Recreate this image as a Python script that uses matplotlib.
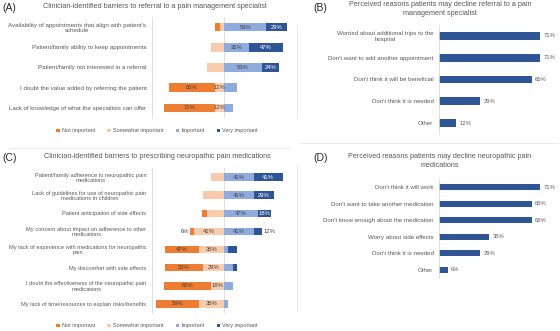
"""Four-panel survey chart: referral and neuropathic medication barriers."""

import matplotlib
matplotlib.use("Agg")
import matplotlib.pyplot as plt
from matplotlib.lines import Line2D
from matplotlib.patches import Patch
import numpy as np

plt.rcParams["font.family"] = ["Liberation Sans", "DejaVu Sans"]

W, H = 560, 331
GREY = "#595959"
C_NOT = "#ED7D31"
C_SOME = "#F8CBAD"
C_IMP = "#8FAADC"
C_VERY = "#2F5597"
SPINE = "#D9D9D9"
FS = 4.4

levels = ["Not important", "Somewhat important", "Important", "Very important"]

# panel A
a_items = [
    "Availability of appointments that align with patient's\nschedule",
    "Patient/family ability to keep appointments",
    "Patient/family not interested in a referral",
    "I doubt the value added by referring the patient",
    "Lack of knowledge of what the specialists can offer",
]
a_not = [6, 0, 0, 65, 71]
a_some = [6, 18, 24, 12, 12]
a_imp = [59, 35, 53, 18, 12]
a_very = [29, 47, 24, 0, 0]
a_show = [
    [0, 0, 1, 1],
    [0, 0, 1, 1],
    [0, 0, 1, 1],
    [1, 1, 0, 0],
    [1, 1, 0, 0],
]

# panel C
c_items = [
    "Patient/family adherence to neuropathic pain\nmedications",
    "Lack of guidelines for use of neuropathic pain\nmedications in children",
    "Patient anticipation of side effects",
    "My concern about impact on adherence to other\nmedications",
    "My lack of experience with medications for neuropathic\npain",
    "My discomfort with side effects",
    "I doubt the effectiveness of the neuropathic pain\nmedications",
    "My lack of time/resources to explain risks/benefits",
]
c_not = [0, 0, 6, 6, 47, 53, 65, 59]
c_some = [18, 29, 24, 41, 35, 29, 18, 35]
c_imp = [41, 41, 47, 41, 6, 12, 12, 6]
c_very = [41, 29, 18, 12, 12, 6, 0, 0]
c_show = [
    [0, 0, 1, 1],
    [0, 0, 1, 1],
    [0, 0, 1, 1],
    [2, 1, 1, 2],
    [1, 1, 0, 0],
    [1, 1, 0, 0],
    [1, 1, 0, 0],
    [1, 1, 0, 0],
]

# panel B
b_items = [
    "Worried about additional trips to the\nhospital",
    "Don't want to add another appointment",
    "Don't think it will be beneficial",
    "Don't think it is needed",
    "Other",
]
b_vals = [71, 71, 65, 29, 12]

# panel D
d_items = [
    "Don't think it will work",
    "Don't want to take another medication",
    "Don't know enough about the medication",
    "Worry about side effects",
    "Don't think it is needed",
    "Other",
]
d_vals = [71, 65, 65, 35, 29, 6]


def px_axes(fig, x0, y0, x1, y1):
    return fig.add_axes([x0 / W, 1 - y1 / H, (x1 - x0) / W, (y1 - y0) / H])


def style_axes(ax, labels, fs):
    for side in ["top", "right", "bottom"]:
        ax.spines[side].set_visible(False)
    ax.spines["left"].set_color(SPINE)
    ax.spines["left"].set_linewidth(0.6)
    ax.set_xticks([])
    ax.set_yticks(range(len(labels)))
    ax.set_yticklabels(labels, fontsize=fs, color=GREY, multialignment="center",
                       linespacing=1.1)
    ax.tick_params(axis="y", length=0, pad=4)
    ax.set_ylim(len(labels) - 0.5, -0.5)


def diverging(ax, labels, not_imp, some, imp, very, show, fs):
    y = np.arange(len(labels))
    not_imp, some, imp, very = map(np.array, (not_imp, some, imp, very))
    segs = [
        (-(not_imp + some), not_imp, C_NOT, "#404040"),
        (-some, some, C_SOME, "#404040"),
        (np.zeros(len(y)), imp, C_IMP, "#404040"),
        (imp, very, C_VERY, "white"),
    ]
    ax.axvline(0, color=SPINE, lw=0.6, zorder=0)
    for k, (left, width, color, tcol) in enumerate(segs):
        ax.barh(y, width, left=left, height=0.42, color=color, zorder=2)
        for i in y:
            flag = show[i][k]
            if not flag or width[i] == 0:
                continue
            txt = f"{width[i]}%"
            if flag == 1:
                ax.text(left[i] + width[i] / 2, i, txt, ha="center", va="center",
                        fontsize=4.2, color=tcol, zorder=3)
            elif k == 0:
                ax.text(left[i] - 1.5, i, txt, ha="right", va="center",
                        fontsize=4.2, color="#404040", zorder=3)
            else:
                ax.text(left[i] + width[i] + 1.5, i, txt, ha="left", va="center",
                        fontsize=4.2, color="#404040", zorder=3)
    ax.set_xlim(-100, 100)
    style_axes(ax, labels, fs)


def simple(ax, labels, vals):
    y = np.arange(len(labels))
    ax.barh(y, vals, height=0.36, color=C_VERY, zorder=2)
    for i, v in zip(y, vals):
        ax.text(v + 2.5, i, f"{v}%", ha="left", va="center", fontsize=4.2, color=GREY)
    ax.set_xlim(0, 85)
    style_axes(ax, labels, FS)


def legend(fig, x, y):
    handles = [Patch(facecolor=c) for c in (C_NOT, C_SOME, C_IMP, C_VERY)]
    fig.legend(handles, levels, loc="center", bbox_to_anchor=(x / W, 1 - y / H),
               ncol=4, frameon=False, fontsize=4.0, labelcolor=GREY,
               handlelength=0.6, handleheight=0.6, handletextpad=0.4,
               columnspacing=2.2)


fig = plt.figure(figsize=(W / 100, H / 100), dpi=100)

ax_a = px_axes(fig, 152, 17, 296, 118)
diverging(ax_a, a_items, a_not, a_some, a_imp, a_very, a_show, FS)
ax_c = px_axes(fig, 152, 168, 296, 313)
diverging(ax_c, c_items, c_not, c_some, c_imp, c_very, c_show, 4.1)
ax_b = px_axes(fig, 439, 25, 560, 134)
simple(ax_b, b_items, b_vals)
ax_d = px_axes(fig, 439, 179, 560, 278)
simple(ax_d, d_items, d_vals)

legend(fig, 157, 131)
legend(fig, 157, 326)

panel_txt = [
    ("(A)", 2, 8),
    ("(C)", 2, 158),
    ("(B)", 313, 8),
    ("(D)", 313, 158),
]
for label, x, y in panel_txt:
    fig.text(x / W, 1 - y / H, label, fontsize=7.5, color="#262626", ha="left", va="center")

titles = [
    ("Clinician-identified barriers to referral to a pain management specialist", 155, 6),
    ("Clinician-identified barriers to prescribing neuropathic pain medications", 157, 157),
    ("Perceived reasons patients may decline referral to a pain\nmanagement specialist", 440, 9),
    ("Perceived reasons patients may decline neuropathic pain\nmedications", 440, 161),
]
for label, x, y in titles:
    fig.text(x / W, 1 - y / H, label, fontsize=5.2, color=GREY, ha="center", va="center",
             multialignment="center", linespacing=1.25)

for xs, ys in [
    ((10, 290), (148, 148)),
    ((300, 558), (143, 143)),
    ((297, 297), (25, 118)),
    ((297, 297), (165, 312)),
]:
    fig.add_artist(Line2D([x / W for x in xs], [1 - y / H for y in ys],
                          color="#E7E7E7", lw=0.6))

fig.savefig("out.png", dpi=100)
